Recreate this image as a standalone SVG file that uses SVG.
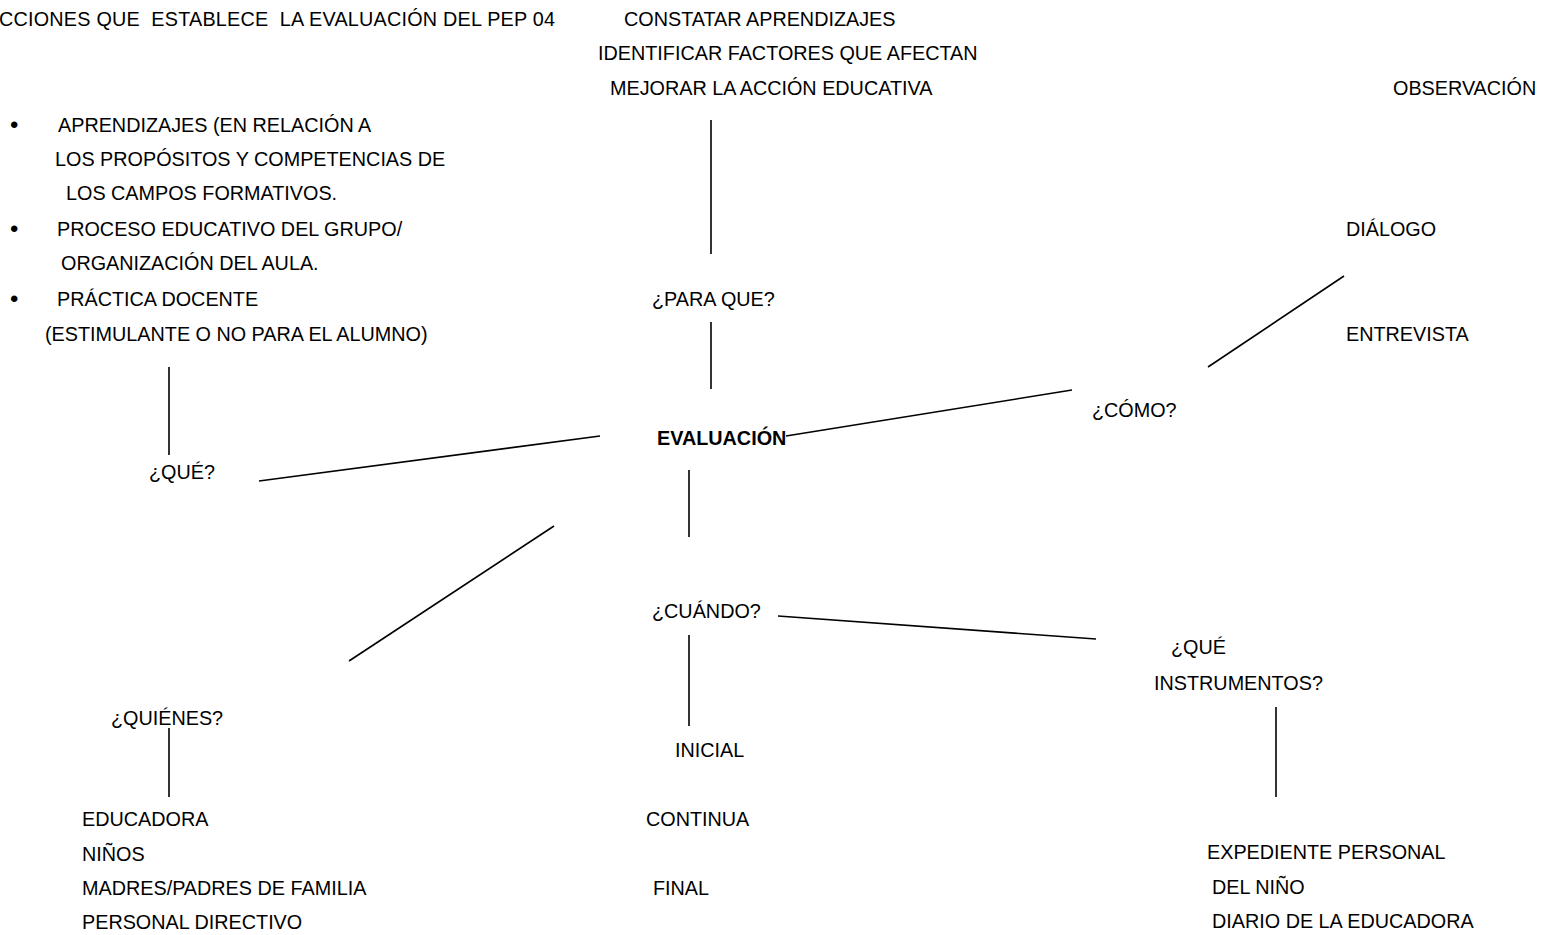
<svg xmlns="http://www.w3.org/2000/svg" width="1543" height="935" viewBox="0 0 1543 935">
<style>
text{font-family:"Liberation Sans",Arial,sans-serif;font-size:19.8px;fill:#000;white-space:pre}
.b{font-weight:bold}
.bul{font-size:24px}
#connectors line{stroke:#000;stroke-width:1.6}
</style>
<rect width="1543" height="935" fill="#fff"/>
<g id="connectors">
<line x1="711" y1="120" x2="711" y2="254"/>
<line x1="711" y1="322" x2="711" y2="389"/>
<line x1="169" y1="367" x2="169" y2="455"/>
<line x1="600" y1="436" x2="259" y2="481"/>
<line x1="1344" y1="276" x2="1208" y2="367"/>
<line x1="1072" y1="390" x2="786" y2="436"/>
<line x1="689" y1="470" x2="689" y2="537"/>
<line x1="554" y1="526" x2="349" y2="661"/>
<line x1="778" y1="616" x2="1096" y2="639"/>
<line x1="689" y1="635" x2="689" y2="726"/>
<line x1="169" y1="728" x2="169" y2="797"/>
<line x1="1276" y1="707" x2="1276" y2="797"/>
</g>
<g id="title"><text x="-1" y="26" style="letter-spacing:0.22px">CCIONES QUE  ESTABLECE  LA EVALUACIÓN DEL PEP 04</text></g>
<g id="paraque-items">
<text x="624" y="26">CONSTATAR APRENDIZAJES</text>
<text x="598" y="60">IDENTIFICAR FACTORES QUE AFECTAN</text>
<text x="610" y="95">MEJORAR LA ACCIÓN EDUCATIVA</text>
</g>
<g id="que-items">
<text class="bul" x="10" y="133">•</text>
<text x="58" y="132">APRENDIZAJES (EN RELACIÓN A</text>
<text x="55" y="166">LOS PROPÓSITOS Y COMPETENCIAS DE</text>
<text x="66" y="200">LOS CAMPOS FORMATIVOS.</text>
<text class="bul" x="10" y="237">•</text>
<text x="57" y="236">PROCESO EDUCATIVO DEL GRUPO/</text>
<text x="61" y="270">ORGANIZACIÓN DEL AULA.</text>
<text class="bul" x="10" y="307">•</text>
<text x="57" y="306">PRÁCTICA DOCENTE</text>
<text x="45" y="341">(ESTIMULANTE O NO PARA EL ALUMNO)</text>
</g>
<g id="como-items">
<text x="1393" y="95">OBSERVACIÓN</text>
<text x="1346" y="236">DIÁLOGO</text>
<text x="1346" y="341">ENTREVISTA</text>
</g>
<g id="paraque"><text x="652" y="306">¿PARA QUE?</text></g>
<g id="como"><text x="1092" y="417">¿CÓMO?</text></g>
<g id="evaluacion"><text class="b" x="657" y="445">EVALUACIÓN</text></g>
<g id="que"><text x="149" y="479">¿QUÉ?</text></g>
<g id="cuando"><text x="652" y="618">¿CUÁNDO?</text></g>
<g id="instrumentos">
<text x="1171" y="654">¿QUÉ</text>
<text x="1154" y="690">INSTRUMENTOS?</text>
</g>
<g id="quienes"><text x="111" y="725">¿QUIÉNES?</text></g>
<g id="cuando-items">
<text x="675" y="757">INICIAL</text>
<text x="646" y="826">CONTINUA</text>
<text x="653" y="895">FINAL</text>
</g>
<g id="quienes-items">
<text x="82" y="826">EDUCADORA</text>
<text x="82" y="861">NIÑOS</text>
<text x="82" y="895">MADRES/PADRES DE FAMILIA</text>
<text x="82" y="929">PERSONAL DIRECTIVO</text>
</g>
<g id="instrumentos-items">
<text x="1207" y="859">EXPEDIENTE PERSONAL</text>
<text x="1212" y="894">DEL NIÑO</text>
<text x="1212" y="928">DIARIO DE LA EDUCADORA</text>
</g>
</svg>
